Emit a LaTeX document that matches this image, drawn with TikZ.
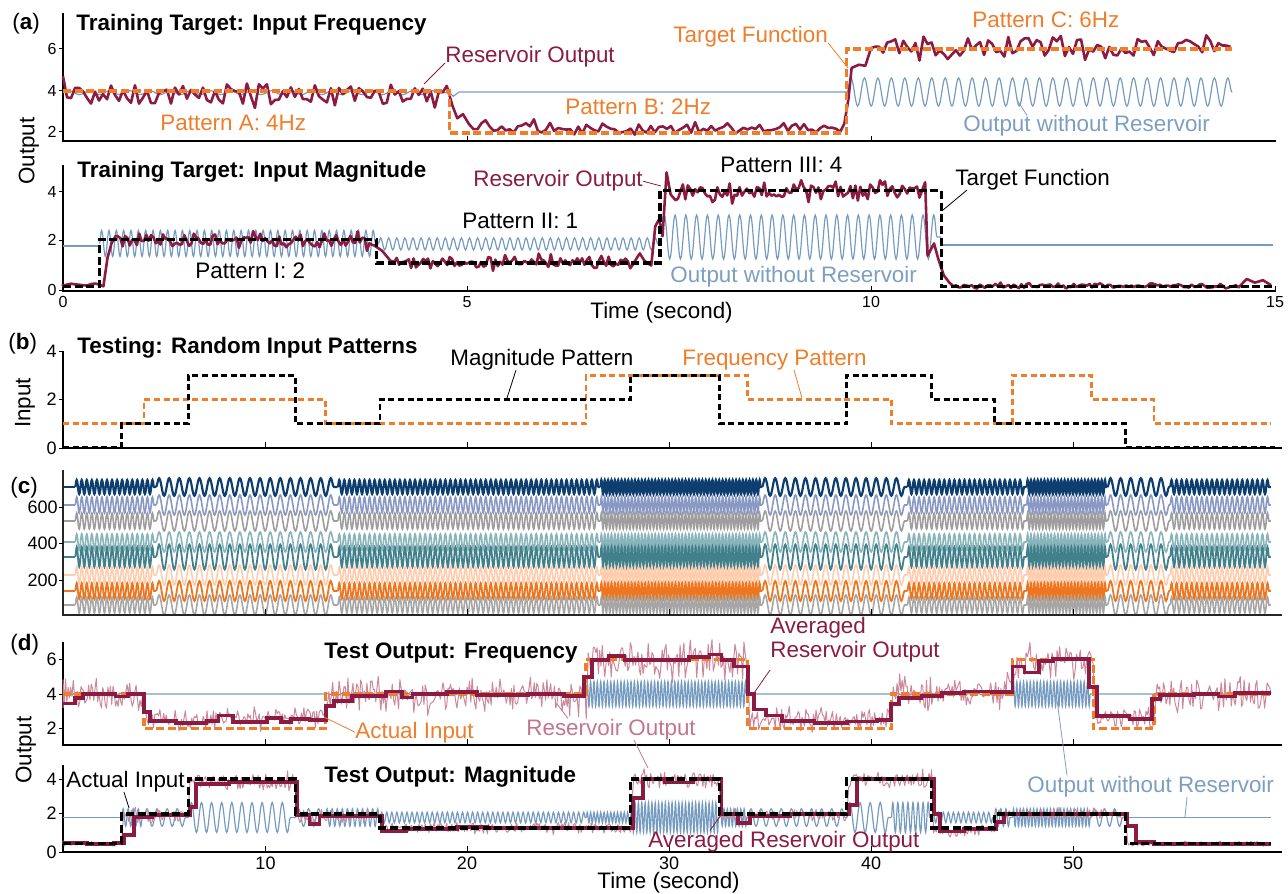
\documentclass[tikz,border=0pt]{standalone}
\usepackage{fontspec}
\setmainfont{Liberation Sans}
\usetikzlibrary{decorations.pathmorphing}

\definecolor{resred}{RGB}{139,27,66}
\definecolor{tgtorange}{RGB}{239,125,42}
\definecolor{norsvblue}{RGB}{118,155,192}
\definecolor{rawpink}{RGB}{203,136,154}
\definecolor{lblpink}{RGB}{194,118,141}
\definecolor{lblblue}{RGB}{124,158,194}
\definecolor{nrnA}{RGB}{14,62,112}
\definecolor{nrnB}{RGB}{138,153,196}
\definecolor{nrnC}{RGB}{158,158,158}
\definecolor{nrnD}{RGB}{137,180,188}
\definecolor{nrnE}{RGB}{66,128,140}
\definecolor{nrnF}{RGB}{255,204,174}
\definecolor{nrnG}{RGB}{238,118,30}
\definecolor{nrnH}{RGB}{166,166,166}

\tikzset{
	lbl/.style={font=\fontsize{11.2}{11.6}\selectfont, inner sep=0pt, anchor=base west},
	ttl/.style={lbl, font=\fontsize{11.2}{11.6}\selectfont\bfseries},
	ticklbl/.style={font=\fontsize{8}{9}\selectfont, inner sep=0pt},
	bigtick/.style={font=\fontsize{9}{10}\selectfont, inner sep=0pt},
	axisline/.style={line width=1pt},
	tickline/.style={line width=0.5pt},
	leader/.style={line width=0.4pt},
	tgtdash/.style={line width=1.7pt, dash pattern=on 4pt off 1.8pt},
	inpdash/.style={line width=1.3pt, dash pattern=on 3pt off 1.8pt},
	resout/.style={resred, line width=1.3pt, line join=round},
	rawout/.style={rawpink, line width=0.5pt, line join=round},
	avgout/.style={resred, line width=1.9pt},
	norsv/.style={norsvblue, line width=0.6pt},
	osc/.style 2 args={decorate, decoration={snake, segment length=#1, amplitude=#2}},
}

\begin{document}
\begin{tikzpicture}[x=0.5pt, y=-0.5pt]
	\useasboundingbox (0,0) rectangle (1288,893);
	\pgfmathsetseed{11}
	\def\fsegs{0/4.0/4, 4.0/13.0/2, 13.0/25.9/4, 25.9/33.9/6, 33.9/41.0/2, 41.0/47.0/4, 47.0/50.9/6, 50.9/54.0/2, 54.0/59.8/4}
	\def\fsegsC{0.6/4.6/4, 4.6/13.6/2, 13.6/26.6/4, 26.6/34.6/6, 34.6/41.8/2, 41.8/47.7/4, 47.7/51.7/6, 51.7/54.8/2, 54.8/59.8/4}

	% (a) training: frequency
	\draw[axisline] (63,13) -- (63,141) -- (1276,141);
	\foreach \yy/\tl in {49/6, 91/4, 132/2}{
		\draw[tickline] (59,\yy) -- (63,\yy);
		\node (tkA\tl) at (57,\yy)[ticklbl, anchor=east]{\tl};
	}
	\foreach \xx in {467,871} \draw[tickline] (\xx,141) -- (\xx,136);
	\begin{scope}[shift={(63,175)}, x=40.4pt, y=10.5pt]
		\draw[norsv, osc={10.1pt}{1pt}] (0,3.92) -- (4.78,3.92);
		\draw[norsv] (4.78,3.92) -- (4.83,3.75) -- (4.9,3.95) -- (9.7,3.95);
		\draw[norsv, osc={6.73pt}{7pt}] (9.7,3.95) -- (14.47,3.95);
		\draw[resout] (0,4.7) -- plot[domain=0.05:4.75, samples=96] (\x,{3.85+0.45*rand+0.35*rand*rand})
			-- (4.82,3.3) -- (4.88,2.7) -- (4.95,2.9) -- (5.02,2.45)
			-- plot[domain=5.08:9.62, samples=92] (\x,{2.25+0.25*rand+0.25*rand*rand})
			-- (9.67,2.45) -- (9.72,3.6) -- (9.76,5.1) -- (9.85,5.25) -- (9.93,5.2)
			-- plot[domain=10:14.45, samples=90] (\x,{6.05+0.45*rand+0.35*rand*rand});
		\draw[tgtorange, tgtdash] (0,4) -| (4.78,2) -| (9.7,6) -- (14.47,6);
	\end{scope}
	\node (pa) at (12,30)[lbl]{(\textbf{a})};
	\node (ttlA) at (76,31)[ttl]{Training Target: Input Frequency};
	\node (lblRsvA) at (445,63)[lbl, text=resred]{Reservoir Output};
	\node (lblTgtA) at (673,43)[lbl, text=tgtorange]{Target Function};
	\node (lblPatA) at (160,131)[lbl, text=tgtorange]{Pattern A: 4Hz};
	\node (lblPatB) at (565,115)[lbl, text=tgtorange]{Pattern B: 2Hz};
	\node (lblPatC) at (972,28)[lbl, text=tgtorange]{Pattern C: 6Hz};
	\node (lblNoA) at (963,132)[lbl, text=lblblue]{Output without Reservoir};
	\coordinate (rsvA) at (424,84);
	\coordinate (tgtA) at (848,68);
	\coordinate (noA) at (1017,100);
	\draw[leader, resred] (lblRsvA.base west) -- (rsvA);
	\draw[leader, tgtorange] (lblTgtA.base east) -- (tgtA);
	\draw[leader, lblblue] ([xshift=32pt]lblNoA.north west) -- (noA);

	% (a) training: magnitude
	\draw[axisline] (63,165) -- (63,291) -- (1276,291);
	\foreach \yy/\tl in {192/4, 240/2, 290/0}{
		\draw[tickline] (59,\yy) -- (63,\yy);
		\node (tkB\tl) at (57,\yy)[ticklbl, anchor=east]{\tl};
	}
	\foreach \xx/\tl in {63/0, 467/5, 871/10, 1275/15}{
		\draw[tickline] (\xx,291) -- (\xx,286);
		\node (tkT\tl) at (\xx,302)[ticklbl]{\tl};
	}
	\begin{scope}[shift={(63,290)}, x=40.4pt, y=12.25pt]
		\draw[norsv] (0,1.8) -- (0.45,1.8);
		\draw[norsv, osc={3.67pt}{6.5pt}] (0.45,1.9) -- (3.9,1.9);
		\draw[norsv, osc={4.04pt}{3pt}] (3.9,1.88) -- (7.4,1.88);
		\draw[norsv, osc={5.39pt}{11pt}] (7.4,2.16) -- (10.87,2.16);
		\draw[norsv] (10.87,1.84) -- (14.97,1.84);
		\draw[resout] (0,0.25) -- plot[domain=0:0.45, samples=10] (\x,{0.22+0.06*rand})
			-- (0.5,0.15) -- (0.55,1.3) -- (0.6,1.9)
			-- plot[domain=0.65:3.85, samples=110] (\x,{2.02+0.22*rand+0.3*rand*rand})
			-- (3.95,1.6) -- (4.05,1.2)
			-- plot[domain=4.1:7.2, samples=105] (\x,{1.15+0.22*rand+0.25*rand*rand})
			-- (7.28,1.0) -- (7.33,2.6) -- (7.38,2.9) -- (7.42,2.2) -- (7.47,4.8) -- (7.52,3.9)
			-- plot[domain=7.58:10.6, samples=100] (\x,{4.02+0.3*rand+0.35*rand*rand})
			-- (10.67,4.4) -- (10.7,1.4) -- (10.78,1.9) -- (10.83,1.3) -- (10.9,0.6) -- (10.97,0.3)
			-- plot[domain=11.02:14.55, samples=110] (\x,{0.17+0.08*rand+0.08*rand*rand})
			-- (14.65,0.45) -- (14.75,0.3) -- (14.85,0.4) -- (14.95,0.2);
		\draw[tgtdash] (0,0.15) -| (0.45,2.05) -| (3.88,1.1) -| (7.39,4.05) -| (10.87,0.15) -- (14.97,0.15);
	\end{scope}
	\node (ylA) at (29,151)[lbl, anchor=center, rotate=90]{Output};
	\node (ttlB) at (77,177)[ttl]{Training Target: Input Magnitude};
	\node (lblRsvB) at (473,187)[lbl, text=resred]{Reservoir Output};
	\node (lblPat3) at (720,173)[lbl]{Pattern III: 4};
	\node (lblPat2) at (462,228)[lbl]{Pattern II: 1};
	\node (lblPat1) at (195,278)[lbl]{Pattern I: 2};
	\node (lblTgtB) at (955,185)[lbl]{Target Function};
	\node (lblNoB) at (670,282)[lbl, text=lblblue]{Output without Reservoir};
	\node (xlA) at (590,318)[lbl]{Time (second)};
	\coordinate (rsvB) at (661,186);
	\coordinate (tgtB) at (943,210);
	\draw[leader, resred] (lblRsvB.east) -- (rsvB);
	\draw[leader] ([xshift=6pt]lblTgtB.south west) -- (tgtB);

	% (b) random input patterns
	\draw[axisline] (63,351) -- (63,448) -- (1282,448);
	\foreach \yy/\tl in {351/4, 399/2, 448/0}{
		\draw[tickline] (59,\yy) -- (63,\yy);
		\node (tkC\tl) at (57,\yy)[bigtick, anchor=east]{\tl};
	}
	\foreach \xx in {265.5,467,669,871,1073} \draw[tickline] (\xx,448) -- (\xx,442);
	\begin{scope}[shift={(63,448)}, x=10.1pt, y=12.125pt]
		\draw[tgtorange, inpdash] (0,1) -| (4.0,2) -| (13.0,1) -| (25.9,3) -| (33.9,2) -| (41.0,1) -| (47.0,3) -| (50.9,2) -| (54.0,1) -- (59.8,1);
		\draw[inpdash] (0,0.02) -| (2.9,1) -| (6.2,3) -| (11.5,1) -| (15.7,2) -| (28.1,3) -| (32.5,1) -| (38.8,3) -| (43.0,2) -| (46.1,1) -| (52.6,0.02) -- (60,0.02);
	\end{scope}
	\node (pb) at (8,349)[lbl]{(\textbf{b})};
	\node (ylB) at (25,403)[lbl, anchor=center, rotate=90]{Input};
	\node (ttlC) at (77,353)[ttl]{Testing: Random Input Patterns};
	\node (lblMag) at (450,365)[lbl]{Magnitude Pattern};
	\node (lblFrq) at (682,365)[lbl, text=tgtorange]{Frequency Pattern};
	\coordinate (magB) at (507,398);
	\coordinate (frqB) at (802,398);
	\draw[leader] ([xshift=33pt]lblMag.south west) -- (magB);
	\draw[leader, tgtorange] ([xshift=56pt]lblFrq.south west) -- (frqB);

	% (c) reservoir node states
	\begin{scope}[shift={(63,0)}, x=10.1pt]
		\foreach \trY/\trA/\trC/\trW in {487/3.5/nrnA/1.1, 505/4/nrnB/0.8, 521/4/nrnC/0.8, 542/4/nrnD/0.8, 557/5/nrnE/0.9, 575/4/nrnF/0.8, 591/4/nrnG/0.9, 605/4/nrnH/0.8}{
			\draw[\trC, line width=\trW pt] (0,\trY) -- (0.6,\trY);
			\foreach \ta/\tb/\fq in \fsegsC {
				\pgfmathsetmacro\osclen{10.1/\fq}
				\pgfmathsetmacro\oscamp{(\fq==2)?\trA*1.25:\trA}
				\draw[\trC, line width=\trW pt, osc={\osclen pt}{\oscamp pt}] (\ta,\trY) -- (\tb,\trY);
			}
		}
	\end{scope}
	\draw[axisline, line width=1.4pt, black!85] (63,470) -- (63,615) -- (1282,615);
	\foreach \yy/\tl in {507/600, 543/400, 580/200}{
		\draw[tickline] (59,\yy) -- (63,\yy);
		\node (tkD\tl) at (58,\yy)[bigtick, anchor=east]{\tl};
	}
	\foreach \xx in {265.5,467,669,871,1073} \draw[tickline] (\xx,615) -- (\xx,609);
	\node (pc) at (10,493)[lbl]{(\textbf{c})};

	% (d) test output: frequency
	\draw[axisline] (63,642) -- (63,745) -- (1282,745);
	\foreach \yy/\tl in {659/6, 694/4, 728/2}{
		\draw[tickline] (59,\yy) -- (63,\yy);
		\node (tkE\tl) at (57,\yy)[bigtick, anchor=east]{\tl};
	}
	\foreach \xx in {265.5,467,669,871,1073} \draw[tickline] (\xx,745) -- (\xx,739);
	\begin{scope}[shift={(63,762.8)}, x=10.1pt, y=8.6pt]
		\foreach \ta/\tb/\fq in \fsegs {
			\pgfmathsetmacro\osclen{10.1/\fq}
			\pgfmathsetmacro\oscamp{(\fq==6)?6.2:((\fq==4)?0.4:0.01)}
			\draw[norsv, osc={\osclen pt}{\oscamp pt}] (\ta,4) -- (\tb,4);
		}
		\draw[rawout] (0,3.2) \foreach \ta/\tb/\mv/\nv/\sv in {0/4.0/3.95/0.9/64, 4.1/13.0/2.5/0.65/142, 13.1/25.9/3.95/0.9/205, 26.0/33.9/5.95/0.95/126, 34.0/41.0/2.5/0.65/112, 41.1/47.0/4.0/0.9/94, 47.1/51.0/5.9/0.95/62, 51.1/54.0/2.6/0.65/46, 54.1/59.8/4.0/0.9/91}{
			-- plot[domain=\ta:\tb, samples=\sv] (\x,{\mv+\nv*(0.85*rand+0.8*rand*rand)}) };
		\draw[tgtorange, tgtdash] (0,4) -| (4.0,2) -| (13.0,4) -| (25.9,6) -| (33.9,2) -| (41.0,4) -| (47.0,6) -| (51.0,2) -| (54.0,4) -- (59.8,4);
		\draw[avgout] (0,3.45) -| (0.6,3.75) -| (1.0,4.0) -| (2.6,3.85) -| (3.2,4.0) -| (4.0,2.95) -| (4.3,2.45) -| (5.6,2.3) -| (7.1,2.45) -| (7.7,2.75) -| (8.4,2.35) -| (10.1,2.6) -| (10.8,2.35) -| (11.3,2.55) -| (12.2,2.5) -| (13.0,3.3) -| (13.4,3.6) -| (14.3,3.9) -| (16.0,4.15) -| (16.8,3.8) -| (17.3,4.0) -| (19.0,4.1) -| (20.5,3.95) -| (23.0,4.0) -| (24.8,3.9) -| (25.8,5.0) -| (26.2,6.0) -| (27.0,6.2) -| (27.8,6.0) -| (31.0,6.15) -| (32.0,6.3) -| (32.6,6.0) -| (33.2,5.6) -| (33.9,4.0) -| (34.2,3.1) -| (34.8,2.75) -| (35.6,2.45) -| (37.2,2.3) -| (38.8,2.4) -| (40.3,2.5) -| (41.0,3.4) -| (41.4,3.75) -| (42.5,3.9) -| (43.5,4.05) -| (44.6,4.15) -| (46.0,4.1) -| (47.0,5.6) -| (47.6,5.25) -| (48.3,5.9) -| (49.0,6.05) -| (50.8,4.4) -| (51.2,2.7) -| (52.8,2.55) -| (53.9,3.7) -| (54.3,3.95) -| (56.0,4.0) -| (57.2,3.85) -| (58.0,4.05) -- (59.8,4.05);
	\end{scope}
	\node (pd) at (10,650)[lbl]{(\textbf{d})};
	\node (ttlD) at (324,658)[ttl]{Test Output: Frequency};
	\node (lblActF) at (355,738)[lbl, text=tgtorange]{Actual Input};
	\node (lblRsvD) at (526,735)[lbl, text=lblpink]{Reservoir Output};
	\node (lblAvgF) at (770,657)[lbl, align=left, text=resred]{Averaged\\Reservoir Output};
	\coordinate (actF) at (324,717);
	\coordinate (rsvD) at (557,704);
	\coordinate (rsvM) at (648,768);
	\coordinate (avgF) at (754,693);
	\draw[leader, tgtorange] (lblActF.west) -- (actF);
	\draw[leader, lblpink] ([xshift=21pt]lblRsvD.north west) -- (rsvD);
	\draw[leader, lblpink] ([xshift=54pt]lblRsvD.south west) -- (rsvM);
	\draw[leader, resred] ([yshift=-4pt]lblAvgF.south west) -- (avgF);

	% (d) test output: magnitude
	\draw[axisline] (63,765) -- (63,852) -- (1282,852);
	\foreach \yy/\tl in {779/4, 813/2, 852/0}{
		\draw[tickline] (59,\yy) -- (63,\yy);
		\node (tkF\tl) at (57,\yy)[bigtick, anchor=east]{\tl};
	}
	\foreach \xx/\tl in {265.5/10, 467/20, 669/30, 871/40, 1073/50}{
		\draw[tickline] (\xx,852) -- (\xx,846);
		\node (tkX\tl) at (\xx,863)[bigtick]{\tl};
	}
	\begin{scope}[shift={(63,849)}, x=10.1pt, y=8.75pt]
		\draw[norsv] (0,1.8) -- (2.9,1.8);
		\foreach \ta/\tb/\fq/\av in {2.9/4.0/4/0.5, 4.0/6.2/2/0.5, 6.2/11.5/2/0.85, 11.5/13.0/2/0.5, 13.0/15.7/4/0.5, 15.7/25.9/4/0.3, 25.9/28.1/6/0.3, 28.1/32.5/6/0.85, 32.5/33.9/6/0.5, 33.9/38.8/2/0.5, 38.8/41.0/2/0.85, 41.0/43.0/4/0.85, 43.0/46.1/4/0.3, 46.1/47.0/4/0.5, 47.0/50.9/6/0.5, 50.9/52.6/2/0.5}{
			\pgfmathsetmacro\osclen{10.1/\fq}
			\pgfmathsetmacro\oscamp{\av*8.75}
			\draw[norsv, osc={\osclen pt}{\oscamp pt}] (\ta,1.8) -- (\tb,1.8);
		}
		\draw[norsv] (52.6,1.8) -- (59.8,1.8);
		\draw[rawout] (0,0.3) \foreach \ta/\tb/\mv/\nv/\sv in {0/2.9/0.3/0.15/46, 3.0/6.2/1.9/0.35/51, 6.3/11.5/3.85/0.45/83, 11.6/15.7/1.9/0.35/66, 15.8/28.1/1.2/0.3/197, 28.2/32.5/3.95/0.5/69, 32.6/38.8/1.95/0.3/99, 38.9/43.0/3.95/0.45/66, 43.1/46.1/1.05/0.35/48, 46.2/52.6/2.0/0.3/102, 52.7/59.8/0.3/0.12/114}{
			-- plot[domain=\ta:\tb, samples=\sv] (\x,{\mv+\nv*(0.85*rand+0.8*rand*rand)}) };
		\draw[avgout] (0,0.35) -| (1.2,0.28) -| (2.5,0.35) -| (3.0,0.8) -| (3.5,1.85) -| (4.4,1.95) -| (6.3,2.4) -| (6.6,3.7) -| (8.2,3.85) -| (11.6,1.95) -| (12.2,1.45) -| (12.7,1.9) -| (15.8,1.05) -| (17.0,1.15) -| (19.5,1.25) -| (21.0,1.2) -| (28.2,2.9) -| (28.7,4.0) -| (29.8,3.8) -| (31.2,4.0) -| (32.6,2.0) -| (33.4,1.5) -| (34.0,1.9) -| (36,2.0) -| (38.9,2.5) -| (39.3,4.0) -| (43.1,2.0) -| (43.4,1.0) -| (44.6,1.15) -| (46.2,1.55) -| (46.6,2.0) -| (52.7,1.3) -| (53.1,0.4) -| (54,0.3) -- (59.8,0.3);
		\draw[tgtdash] (0,0.3) -| (2.9,2) -| (6.2,4) -| (11.5,2) -| (15.7,1.2) -| (28.1,4) -| (32.5,2) -| (38.8,4) -| (43.0,1.2) -| (46.1,2) -| (52.6,0.3) -- (59.8,0.3);
	\end{scope}
	\node (ylD) at (26,750)[lbl, anchor=center, rotate=90]{Output};
	\node (ttlE) at (324,782)[ttl]{Test Output: Magnitude};
	\node (lblActM) at (66,787)[lbl]{Actual Input};
	\node (lblNoD) at (1027,792)[lbl, text=lblblue]{Output without Reservoir};
	\node (lblAvgM) at (648,847)[lbl, text=resred]{Averaged Reservoir Output};
	\node (xlD) at (597,888)[lbl]{Time (second)};
	\coordinate (actM) at (129,808);
	\coordinate (noF) at (1057,700);
	\coordinate (noM) at (1185,817);
	\coordinate (avgM) at (721,815);
	\draw[leader] ([xshift=29pt]lblActM.south west) -- (actM);
	\draw[leader, lblblue] ([xshift=20pt]lblNoD.north west) -- (noF);
	\draw[leader, lblblue] ([xshift=80pt]lblNoD.south west) -- (noM);
	\draw[leader, resred] ([xshift=31pt]lblAvgM.north west) -- (avgM);
\end{tikzpicture}
\end{document}
